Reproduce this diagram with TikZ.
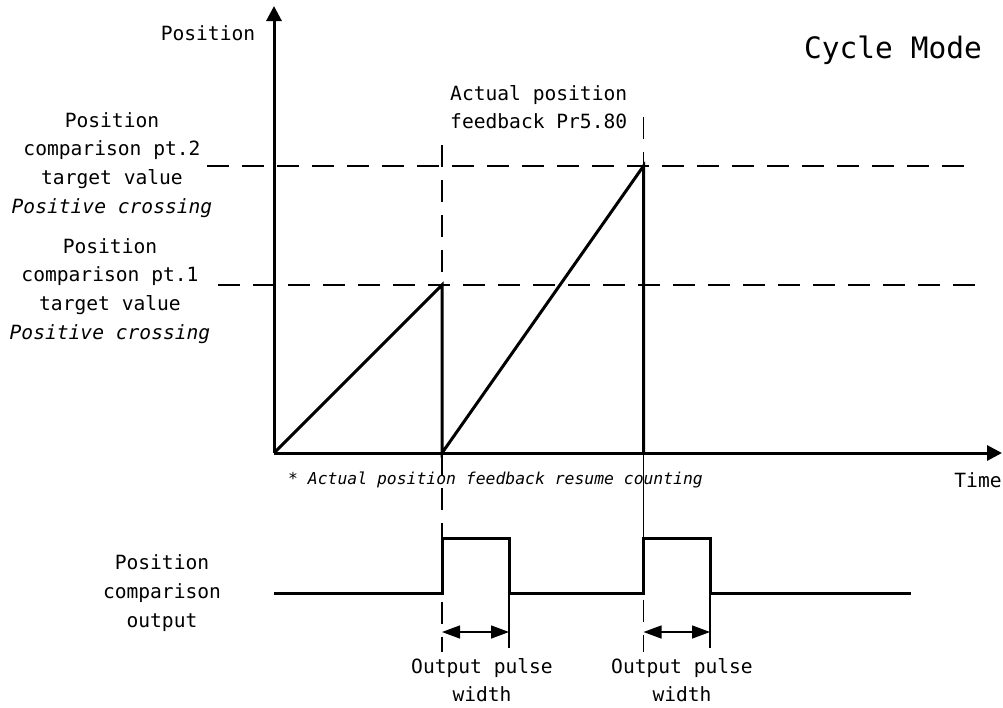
\documentclass[tikz,border=0pt]{standalone}
\usepackage{fontspec}
\setmainfont{DejaVu Sans Mono}
\usetikzlibrary{arrows.meta}
\begin{document}
\begin{tikzpicture}[x=1pt,y=-1pt,
  thickline/.style={line width=3pt},
  dashline/.style={line width=1.4pt, dash pattern=on 22pt off 13pt},
  thinline/.style={line width=1.4pt},
  lbl/.style={font=\fontsize{19.6}{28.7}\selectfont, inner sep=0pt, align=center},
  note/.style={font=\fontsize{16.4}{20}\selectfont\itshape, inner sep=0pt},
  bigl/.style={font=\fontsize{29.5}{34}\selectfont, inner sep=0pt},
  axistip/.style={-{Triangle[length=15pt,width=15pt]}},
  pwarrow/.style={line width=1.4pt, {Triangle[length=18pt,width=13pt]}-{Triangle[length=18pt,width=13pt]}}
]
\useasboundingbox (0,0) rectangle (1003,707);
% key coordinates
\coordinate (O) at (274,453);
\coordinate (Ytop) at (274,6);
\coordinate (Xend) at (1002,453);
\coordinate (P1) at (442,285);
\coordinate (B1) at (442,453);
\coordinate (P2) at (643.5,166);
\coordinate (B2) at (643.5,453);
\coordinate (H2a) at (207,166);
\coordinate (H2b) at (977,166);
\coordinate (H1a) at (218,285);
\coordinate (H1b) at (988,285);
\coordinate (V1top) at (442,145);
\coordinate (V2top) at (643.5,117);
% output signal
\coordinate (L0) at (274,593);
\coordinate (Q1a) at (442,593);
\coordinate (Q1b) at (442,538);
\coordinate (Q1c) at (509,538);
\coordinate (Q1d) at (509,593);
\coordinate (Q2a) at (643.5,593);
\coordinate (Q2b) at (643.5,538);
\coordinate (Q2c) at (710,538);
\coordinate (Q2d) at (710,593);
\coordinate (Lend) at (911,593);
\coordinate (T1a) at (442,602);
\coordinate (T1e) at (442,652);
\coordinate (T1b) at (509,648);
\coordinate (T2a) at (643.5,600);
\coordinate (T2e) at (643.5,652);
\coordinate (T2b) at (710,648);
\coordinate (A1l) at (442,632);
\coordinate (A1r) at (509,632);
\coordinate (A2l) at (643.5,632);
\coordinate (A2r) at (710,632);

% dashed reference lines
\draw[dashline] (H2a) -- (H2b);
\draw[dashline] (H1a) -- (H1b);
\draw[dashline] (V1top) -- (P1);
\draw[dashline] (V2top) -- (P2);
\draw[dashline] (B1) -- (Q1b);
\draw[dashline] (T1a) -- (T1e);
\draw[dashline] (T2a) -- (T2e);
\draw[thinline] (B2) -- (Q2b);
\draw[thinline] (Q1d) -- (T1b);
\draw[thinline] (Q2d) -- (T2b);

% axes
\draw[thickline,axistip] (O) -- (Ytop);
\draw[thickline,axistip] (O) -- (Xend);

% position curve
\draw[thickline,line join=miter] (O) -- (P1) -- (B1) -- (P2) -- (B2);

% output signal
\draw[thickline] (L0) -- (Q1a) -- (Q1b) -- (Q1c) -- (Q1d) -- (Q2a) -- (Q2b) -- (Q2c) -- (Q2d) -- (Lend);

% pulse width arrows
\draw[pwarrow] (A1l) -- (A1r);
\draw[pwarrow] (A2l) -- (A2r);

% labels
\node[lbl] (ylab) at (208,33) {Position};
\node[lbl] (xlab) at (978,480) {Time};
\node[bigl] (mode) at (893,50) {Cycle Mode};
\node[lbl,align=left,anchor=west] (fb) at (450,107) {Actual position\\feedback Pr5.80};
\node[lbl] (pt2) at (112,165) {Position\\comparison pt.2\\target value\\\textit{Positive crossing}};
\node[lbl] (pt1) at (110,291) {Position\\comparison pt.1\\target value\\\textit{Positive crossing}};
\node[note,anchor=west] (resume) at (288,480) {* Actual position feedback resume counting};
\node[lbl] (outlab) at (162,593) {Position\\comparison\\output};
\node[lbl] (pw1) at (482,680) {Output pulse\\width};
\node[lbl] (pw2) at (682,680) {Output pulse\\width};
\end{tikzpicture}
\end{document}
